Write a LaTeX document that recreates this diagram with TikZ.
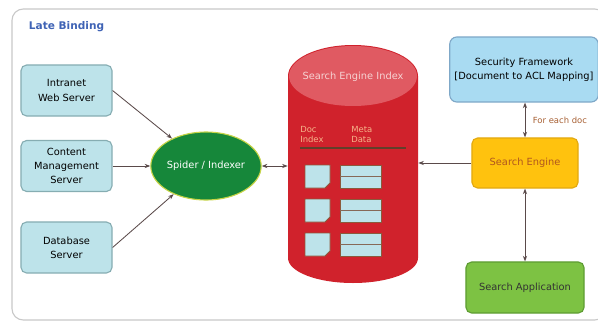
\documentclass[tikz,border=0pt]{standalone}
\usepackage{fontspec}
\setmainfont{DejaVu Sans}
\usetikzlibrary{arrows.meta,shapes.geometric}

\definecolor{framegray}{HTML}{C8C8C8}
\definecolor{titleblue}{HTML}{3F63B5}
\definecolor{srvfill}{HTML}{BDE3EA}
\definecolor{srvline}{HTML}{86ADB2}
\definecolor{secfill}{HTML}{A9DBF2}
\definecolor{secline}{HTML}{7FA8C8}
\definecolor{engfill}{HTML}{FFC20E}
\definecolor{engline}{HTML}{E2A910}
\definecolor{engtext}{HTML}{B0561E}
\definecolor{appfill}{HTML}{7DC243}
\definecolor{appline}{HTML}{5E9C33}
\definecolor{spidfill}{HTML}{16873A}
\definecolor{spidline}{HTML}{C6D447}
\definecolor{cylred}{HTML}{D0222C}
\definecolor{cyltop}{HTML}{E05A62}
\definecolor{cyltext}{HTML}{F6D3D3}
\definecolor{colhead}{HTML}{F6B48A}
\definecolor{iconline}{HTML}{8B5A3C}
\definecolor{arrowgray}{HTML}{5A4A4A}

\begin{document}
\begin{tikzpicture}[x=0.025cm,y=-0.025cm,
    txt/.style={font=\fontsize{7}{10}\selectfont, align=center},
    srvbox/.style={txt, draw=srvline, fill=srvfill, line width=0.8pt, rounded corners=4pt,
        minimum width=2.275cm, minimum height=1.275cm},
    link/.style={draw=arrowgray, line width=0.6pt, -{Stealth[length=4pt,width=3pt]}},
    dlink/.style={link, {Stealth[length=4pt,width=3pt]}-{Stealth[length=4pt,width=3pt]}}]

    \useasboundingbox (0,0) rectangle (598,322);
    \draw[framegray, line width=0.8pt, rounded corners=8pt] (12,9) rectangle (606,320);
    \node[anchor=west, font=\fontsize{7.5}{9}\selectfont\bfseries, text=titleblue] (title) at (24,27) {Late Binding};

    % sources
    \node[srvbox] (intra) at (66.5,90.5) {Intranet\\Web Server};
    \node[srvbox] (cms) at (66.5,166) {Content\\Management\\Server};
    \node[srvbox] (db) at (66.5,247.5) {Database\\Server};

    \node[txt, ellipse, draw=spidline, fill=spidfill, line width=0.8pt, text=white,
        minimum width=2.45cm, minimum height=1.7cm, inner sep=0pt] (spider) at (206,166) {Spider / Indexer};

    % index cylinder
    \fill[cylred] (288,76) -- (288,258) arc[start angle=180, end angle=0, x radius=65, y radius=25]
        -- (418,76) arc[start angle=0, end angle=-180, x radius=65, y radius=31] -- cycle;
    \fill[cyltop] (353,76) ellipse[x radius=64, y radius=30];
    \node[txt, text=cyltext] (idxtitle) at (353,77) {Search Engine Index};
    \node (index) [minimum width=3.25cm, minimum height=5.95cm, inner sep=0pt] at (353,164) {};

    \node[anchor=north west, font=\fontsize{6}{7.5}\selectfont, align=left, text=colhead, inner sep=0pt] (dochead) at (300,126) {Doc\\Index};
    \node[anchor=north west, font=\fontsize{6}{7.5}\selectfont, align=left, text=colhead, inner sep=0pt] (metahead) at (351,126) {Meta\\Data};
    \draw[iconline!70!black, line width=0.8pt] (300,148) -- (406,148);

    \foreach \y in {165,199,233} {
        \draw[iconline, fill=srvfill, line width=0.7pt] (305,\y) -- (330,\y) -- (330,\y+18) -- (325,\y+23) -- (305,\y+23) -- cycle;
        \draw[iconline, fill=srvfill, line width=0.7pt] (340,\y) rectangle (381,\y+23);
        \draw[iconline!60!gray, line width=0.7pt] (340,\y+11) -- (381,\y+11);
    }

    % search side
    \node[txt, draw=secline, fill=secfill, line width=0.8pt, rounded corners=5pt,
        minimum width=3.65cm, minimum height=1.625cm] (sec) at (524,69.5) {Security Framework\\{[Document to ACL Mapping]}};
    \node[txt, draw=engline, fill=engfill, line width=0.8pt, rounded corners=4pt, text=engtext,
        minimum width=2.65cm, minimum height=1.25cm] (engine) at (525,163) {Search Engine};
    \node[txt, draw=appline, fill=appfill, line width=0.8pt, rounded corners=4pt, text=black!80,
        minimum width=2.95cm, minimum height=1.275cm] (app) at (525,287.5) {Search Application};

    \draw[link] (intra.east) -- (spider);
    \draw[link] (cms.east) -- (spider.west);
    \draw[link] (db.east) -- (spider);
    \draw[dlink] (spider.east) -- (spider.east -| index.west);
    \draw[link] (engine.west) -- (engine.west -| index.east);
    \draw[dlink] (sec.south -| engine.north) -- (engine.north)
        node[midway, right, xshift=2pt, font=\fontsize{6}{7}\selectfont, text=engtext!80!gray] (eachdoc) {For each doc};
    \draw[dlink] (engine.south) -- (app.north);

\end{tikzpicture}
\end{document}
